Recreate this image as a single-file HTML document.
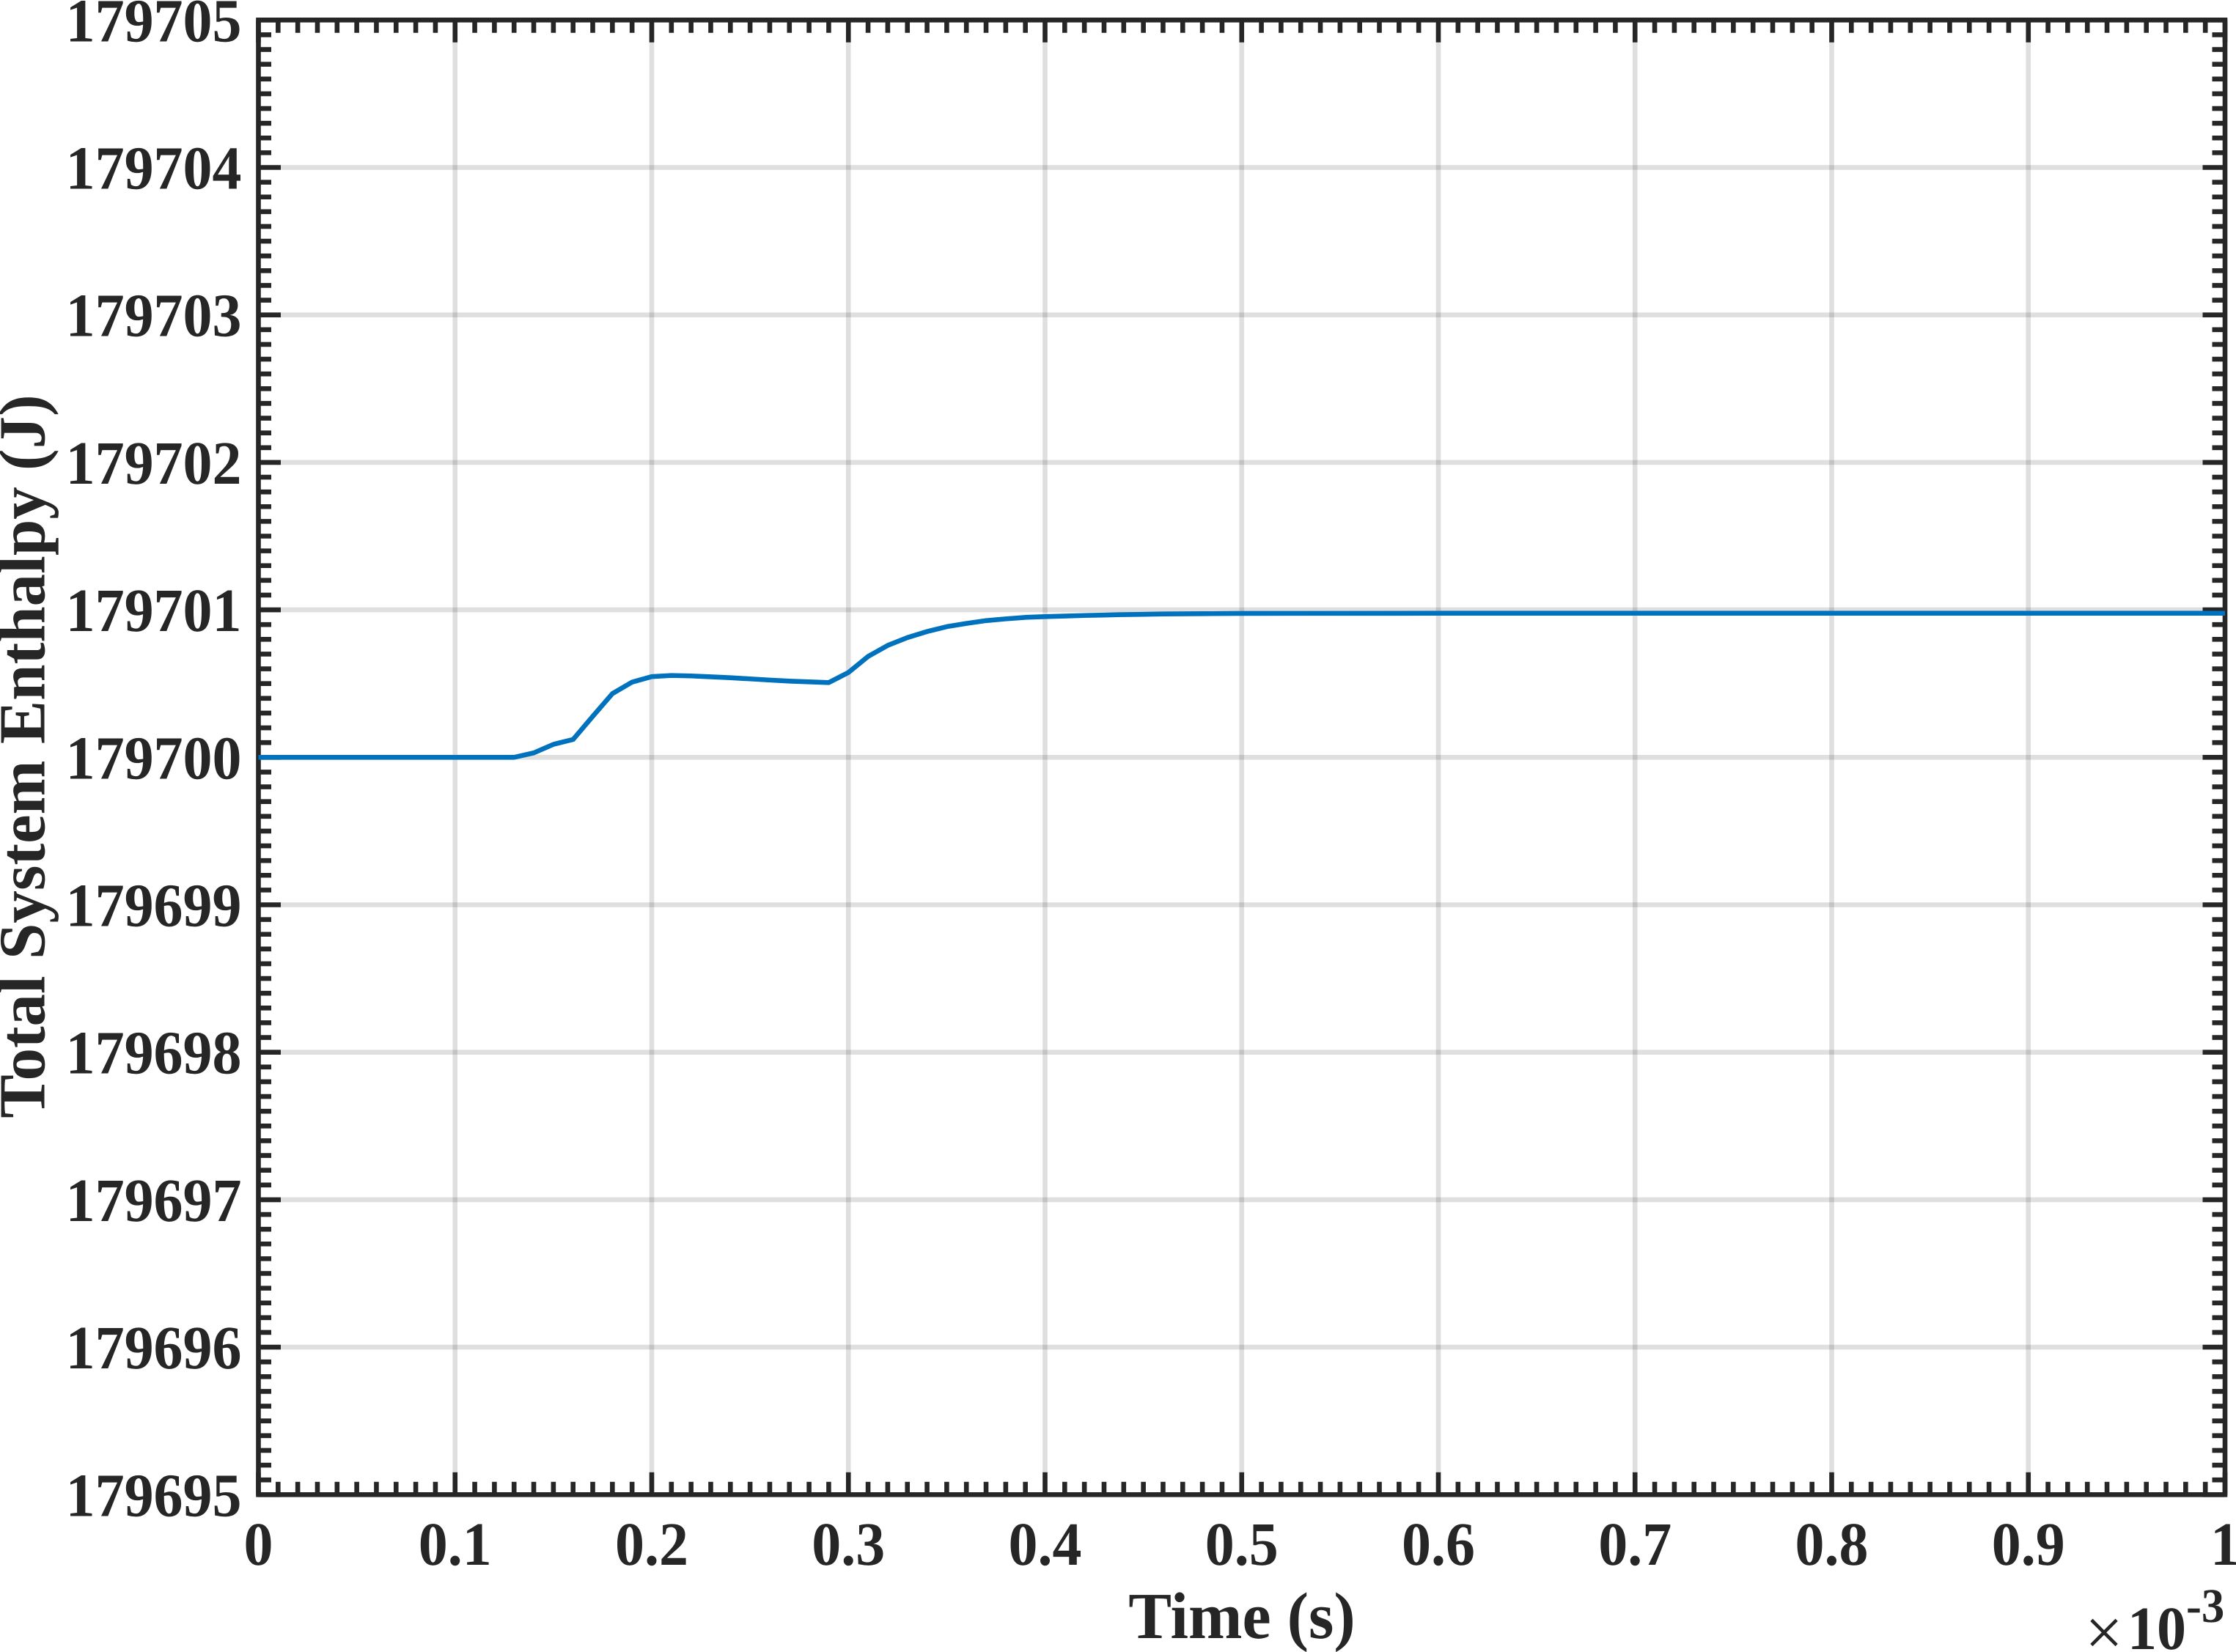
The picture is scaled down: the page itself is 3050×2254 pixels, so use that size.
<!DOCTYPE html>
<html lang="en">
<head>
<meta charset="utf-8">
<title>Total System Enthalpy vs Time</title>
<style>
  html, body { margin: 0; padding: 0; background: #ffffff; }
  body { width: 3050px; height: 2254px; overflow: hidden; }
  svg { display: block; }
  text { font-family: "Liberation Serif", serif; font-weight: bold; fill: #262626; text-rendering: geometricPrecision; }
</style>
</head>
<body>
<svg id="chart" xmlns="http://www.w3.org/2000/svg" width="3050" height="2254" viewBox="0 0 3050 2254">
  <rect x="0" y="0" width="3050" height="2254" fill="#ffffff"></rect>
  <g id="grid"></g>
  <g id="ticks"></g>
  <rect x="352.5" y="27.3" width="2682.5" height="2012" fill="none" stroke="#262626" stroke-width="6.6"></rect>
  <g id="x-labels"></g>
  <g id="y-labels"></g>
  <text transform="translate(1694 2235) scale(0.98 1)" font-size="90" text-anchor="middle">Time (s)</text>
  <text transform="translate(60.7 1032) rotate(-90) scale(0.988 1)" font-size="90" text-anchor="middle">Total System Enthalpy (J)</text>
  <g>
    <text x="2844" y="2258" font-size="92" style="font-weight:normal">×</text>
    <text transform="translate(2902 2250) scale(0.952 1)" font-size="84">10</text>
    <text transform="translate(2982 2213) scale(0.95 1)" font-size="66">-3</text>
  </g>
  <g id="series"></g>
</svg>
<script>
const timeValues = [0, 0.05, 0.1, 0.13, 0.14, 0.15, 0.16, 0.17, 0.18, 0.19, 0.2, 0.21, 0.22, 0.23, 0.24, 0.25, 0.26, 0.27, 0.28, 0.29, 0.3, 0.31, 0.32, 0.33, 0.34, 0.35, 0.36, 0.37, 0.38, 0.39, 0.4, 0.41, 0.42, 0.43, 0.44, 0.45, 0.46, 0.48, 0.5, 0.6, 0.7, 0.8, 0.9, 1];
const enthalpyValues = [179700, 179700, 179700, 179700, 179700.03, 179700.088, 179700.121, 179700.278, 179700.432, 179700.51, 179700.547, 179700.555, 179700.552, 179700.546, 179700.54, 179700.532, 179700.524, 179700.517, 179700.512, 179700.507, 179700.575, 179700.684, 179700.759, 179700.812, 179700.853, 179700.886, 179700.908, 179700.927, 179700.939, 179700.949, 179700.954, 179700.958, 179700.962, 179700.965, 179700.968, 179700.97, 179700.972, 179700.974, 179700.976, 179700.977, 179700.977, 179700.977, 179700.977, 179700.977];
const xTickValues = [0, 0.1, 0.2, 0.3, 0.4, 0.5, 0.6, 0.7, 0.8, 0.9, 1];
const xTickLabels = ["0", "0.1", "0.2", "0.3", "0.4", "0.5", "0.6", "0.7", "0.8", "0.9", "1"];
const yTickValues = [179695, 179696, 179697, 179698, 179699, 179700, 179701, 179702, 179703, 179704, 179705];
const yTickLabels = ["179695", "179696", "179697", "179698", "179699", "179700", "179701", "179702", "179703", "179704", "179705"];
const minorDivisions = 10;

const NS = "http://www.w3.org/2000/svg";
const plot = { left: 352.5, right: 3035, top: 27.3, bottom: 2039.3 };
const xMin = 0, xMax = 1, yMin = 179695, yMax = 179705;
const majorLen = 30.5, minorLen = 17.5, tickW = 6.6;

function xScale(v) { return plot.left + (v - xMin) / (xMax - xMin) * (plot.right - plot.left); }
function yScale(v) { return plot.bottom - (v - yMin) / (yMax - yMin) * (plot.bottom - plot.top); }

function makeLine(x1, y1, x2, y2, stroke, width) {
  const l = document.createElementNS(NS, "line");
  l.setAttribute("x1", x1);
  l.setAttribute("y1", y1);
  l.setAttribute("x2", x2);
  l.setAttribute("y2", y2);
  l.setAttribute("stroke", stroke);
  l.setAttribute("stroke-width", width);
  return l;
}

const gridG = document.getElementById("grid");
const ticksG = document.getElementById("ticks");
const xLabelsG = document.getElementById("x-labels");
const yLabelsG = document.getElementById("y-labels");
const seriesG = document.getElementById("series");

xTickValues.forEach(function (v, i) {
  const x = xScale(v);
  if (i > 0 && i < xTickValues.length - 1) {
    const g = makeLine(x, plot.top, x, plot.bottom, "#262626", 6.6);
    g.setAttribute("stroke-opacity", "0.15");
    
    
    gridG.appendChild(g);
  }
  const b = makeLine(x, plot.bottom, x, plot.bottom - majorLen, "#262626", tickW);
  
  
  ticksG.appendChild(b);
  const t = makeLine(x, plot.top, x, plot.top + majorLen, "#262626", tickW);
  
  
  ticksG.appendChild(t);
  const label = document.createElementNS(NS, "text");
  
  
  label.setAttribute("transform", "translate(" + x + " 2135) scale(0.952 1)");
  label.setAttribute("font-size", 84);
  label.setAttribute("text-anchor", "middle");
  label.textContent = xTickLabels[i];
  xLabelsG.appendChild(label);
  if (i < xTickValues.length - 1) {
    const step = (xTickValues[i + 1] - v) / minorDivisions;
    for (let k = 1; k < minorDivisions; k++) {
      const mx = xScale(v + k * step);
      const mb = makeLine(mx, plot.bottom, mx, plot.bottom - minorLen, "#262626", tickW);
      
      
      ticksG.appendChild(mb);
      const mt = makeLine(mx, plot.top, mx, plot.top + minorLen, "#262626", tickW);
      
      
      ticksG.appendChild(mt);
    }
  }
});

yTickValues.forEach(function (v, i) {
  const y = yScale(v);
  if (i > 0 && i < yTickValues.length - 1) {
    const g = makeLine(plot.left, y, plot.right, y, "#262626", 6.6);
    g.setAttribute("stroke-opacity", "0.15");
    
    
    gridG.appendChild(g);
  }
  const l = makeLine(plot.left, y, plot.left + majorLen, y, "#262626", tickW);
  
  
  ticksG.appendChild(l);
  const r = makeLine(plot.right, y, plot.right - majorLen, y, "#262626", tickW);
  
  
  ticksG.appendChild(r);
  const label = document.createElementNS(NS, "text");
  
  
  label.setAttribute("transform", "translate(329.5 " + (y + 29) + ") scale(0.952 1)");
  label.setAttribute("font-size", 84);
  label.setAttribute("text-anchor", "end");
  label.textContent = yTickLabels[i];
  yLabelsG.appendChild(label);
  if (i < yTickValues.length - 1) {
    const step = (yTickValues[i + 1] - v) / minorDivisions;
    for (let k = 1; k < minorDivisions; k++) {
      const my = yScale(v + k * step);
      const ml = makeLine(plot.left, my, plot.left + minorLen, my, "#262626", tickW);
      
      
      ticksG.appendChild(ml);
      const mr = makeLine(plot.right, my, plot.right - minorLen, my, "#262626", tickW);
      
      
      ticksG.appendChild(mr);
    }
  }
});

const points = timeValues.map(function (t, i) {
  return xScale(t).toFixed(2) + "," + yScale(enthalpyValues[i]).toFixed(2);
}).join(" ");
const seriesLine = document.createElementNS(NS, "polyline");


seriesLine.setAttribute("points", points);
seriesLine.setAttribute("fill", "none");
seriesLine.setAttribute("stroke", "#0072BD");
seriesLine.setAttribute("stroke-width", "6.6");
seriesLine.setAttribute("stroke-linejoin", "round");
seriesG.appendChild(seriesLine);
</script>
</body>
</html>
